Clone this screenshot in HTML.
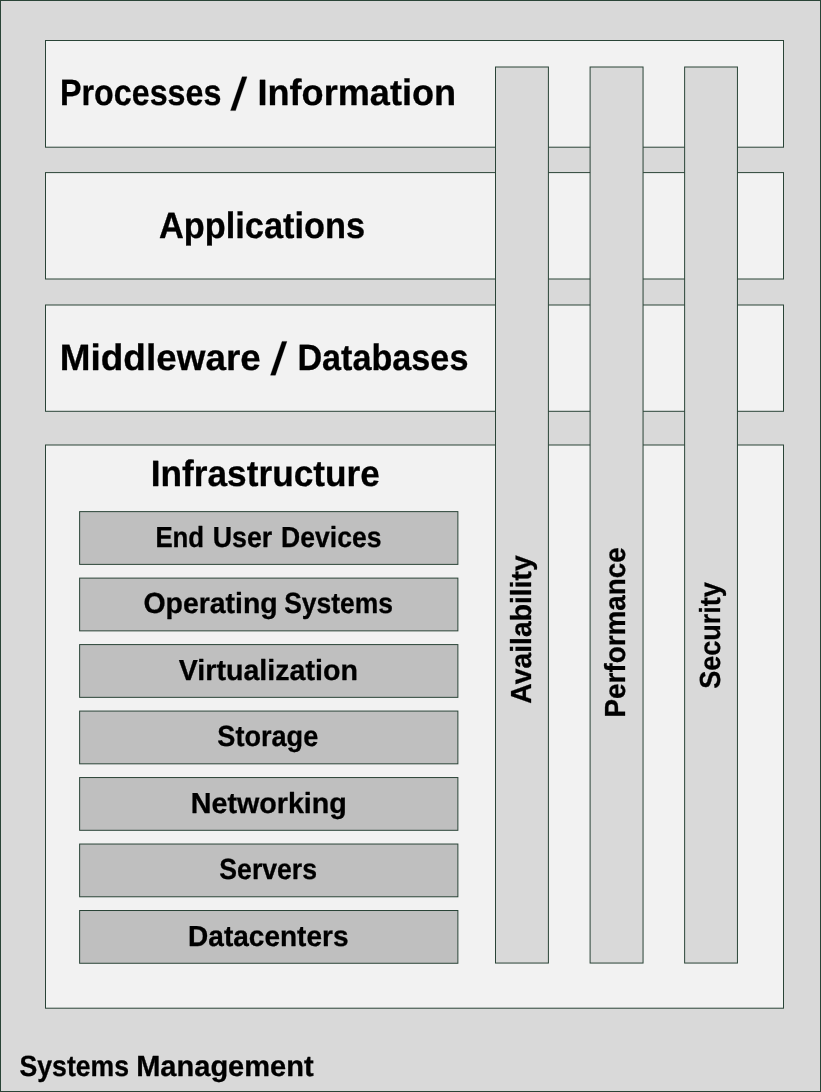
<!DOCTYPE html>
<html><head><meta charset="utf-8"><title>Systems Management</title>
<style>
html,body{margin:0;padding:0;width:821px;height:1092px;overflow:hidden;background:#d9d9d9;}
svg{display:block;}
text{font-family:"Liberation Sans",sans-serif;font-weight:bold;fill:#000;stroke:#000;stroke-width:0.3px;stroke-linejoin:round;text-rendering:geometricPrecision;}
svg{will-change:transform;}
</style></head><body>
<svg width="821" height="1092" viewBox="0 0 821 1092">
<rect x="0.50" y="0.50" width="820.00" height="1091.00" fill="#d9d9d9" stroke="#2a4437" stroke-width="1"/>
<rect x="45.50" y="40.50" width="738.00" height="106.70" fill="#f2f2f2" stroke="#2a4437" stroke-width="1"/>
<rect x="45.50" y="172.60" width="738.00" height="106.40" fill="#f2f2f2" stroke="#2a4437" stroke-width="1"/>
<rect x="45.50" y="305.00" width="738.00" height="106.30" fill="#f2f2f2" stroke="#2a4437" stroke-width="1"/>
<rect x="45.50" y="445.00" width="738.00" height="563.20" fill="#f2f2f2" stroke="#2a4437" stroke-width="1"/>
<rect x="495.50" y="67.00" width="52.90" height="896.05" fill="#d9d9d9" stroke="#2a4437" stroke-width="1"/>
<rect x="590.10" y="67.00" width="52.95" height="896.05" fill="#d9d9d9" stroke="#2a4437" stroke-width="1"/>
<rect x="684.63" y="67.00" width="52.81" height="896.05" fill="#d9d9d9" stroke="#2a4437" stroke-width="1"/>
<rect x="79.63" y="511.63" width="378.25" height="52.75" fill="#bfbfbf" stroke="#2a4437" stroke-width="1"/>
<rect x="79.63" y="578.11" width="378.25" height="52.75" fill="#bfbfbf" stroke="#2a4437" stroke-width="1"/>
<rect x="79.63" y="644.59" width="378.25" height="52.75" fill="#bfbfbf" stroke="#2a4437" stroke-width="1"/>
<rect x="79.63" y="711.07" width="378.25" height="52.75" fill="#bfbfbf" stroke="#2a4437" stroke-width="1"/>
<rect x="79.63" y="777.55" width="378.25" height="52.75" fill="#bfbfbf" stroke="#2a4437" stroke-width="1"/>
<rect x="79.63" y="844.03" width="378.25" height="52.75" fill="#bfbfbf" stroke="#2a4437" stroke-width="1"/>
<rect x="79.63" y="910.51" width="378.25" height="52.75" fill="#bfbfbf" stroke="#2a4437" stroke-width="1"/>
<polygon points="242.20,76.80 247.00,76.80 235.50,110.60 230.60,110.60" fill="#000" stroke="#000" stroke-width="0.3" stroke-linejoin="round"/>
<polygon points="282.10,341.40 286.90,341.40 275.40,375.20 270.50,375.20" fill="#000" stroke="#000" stroke-width="0.3" stroke-linejoin="round"/>
<text x="60.00" y="105.35" font-size="36.60" textLength="161.45" lengthAdjust="spacingAndGlyphs">Processes</text>
<text x="257.51" y="105.35" font-size="36.60" textLength="198.63" lengthAdjust="spacingAndGlyphs">Information</text>
<text x="158.96" y="237.50" font-size="36.60" textLength="206.19" lengthAdjust="spacingAndGlyphs">Applications</text>
<text x="59.81" y="369.90" font-size="36.60" textLength="201.03" lengthAdjust="spacingAndGlyphs">Middleware</text>
<text x="297.43" y="369.90" font-size="36.60" textLength="170.96" lengthAdjust="spacingAndGlyphs">Databases</text>
<text x="150.79" y="485.80" font-size="36.60" textLength="229.01" lengthAdjust="spacingAndGlyphs">Infrastructure</text>
<text x="155.42" y="546.80" font-size="29.00" textLength="48.72" lengthAdjust="spacingAndGlyphs">End</text>
<text x="212.73" y="546.80" font-size="29.00" textLength="59.46" lengthAdjust="spacingAndGlyphs">User</text>
<text x="281.10" y="546.80" font-size="29.00" textLength="100.36" lengthAdjust="spacingAndGlyphs">Devices</text>
<text x="143.48" y="613.32" font-size="29.00" textLength="134.23" lengthAdjust="spacingAndGlyphs">Operating</text>
<text x="284.14" y="613.32" font-size="29.00" textLength="108.85" lengthAdjust="spacingAndGlyphs">Systems</text>
<text x="178.75" y="679.84" font-size="29.00" textLength="179.13" lengthAdjust="spacingAndGlyphs">Virtualization</text>
<text x="217.33" y="746.36" font-size="29.00" textLength="100.94" lengthAdjust="spacingAndGlyphs">Storage</text>
<text x="190.73" y="812.88" font-size="29.00" textLength="156.14" lengthAdjust="spacingAndGlyphs">Networking</text>
<text x="219.35" y="879.40" font-size="29.00" textLength="97.69" lengthAdjust="spacingAndGlyphs">Servers</text>
<text x="188.12" y="945.92" font-size="29.00" textLength="160.36" lengthAdjust="spacingAndGlyphs">Datacenters</text>
<text transform="translate(531.00 703.73) rotate(-90)" x="0" y="0" font-size="29.00" textLength="148.43" lengthAdjust="spacingAndGlyphs">Availability</text>
<text transform="translate(625.40 717.44) rotate(-90)" x="0" y="0" font-size="29.00" textLength="170.08" lengthAdjust="spacingAndGlyphs">Performance</text>
<text transform="translate(719.80 688.87) rotate(-90)" x="0" y="0" font-size="29.00" textLength="106.78" lengthAdjust="spacingAndGlyphs">Security</text>
<text x="19.55" y="1075.80" font-size="29.20" textLength="109.56" lengthAdjust="spacingAndGlyphs">Systems</text>
<text x="136.14" y="1075.80" font-size="29.20" textLength="177.56" lengthAdjust="spacingAndGlyphs">Management</text>
</svg>
</body></html>
